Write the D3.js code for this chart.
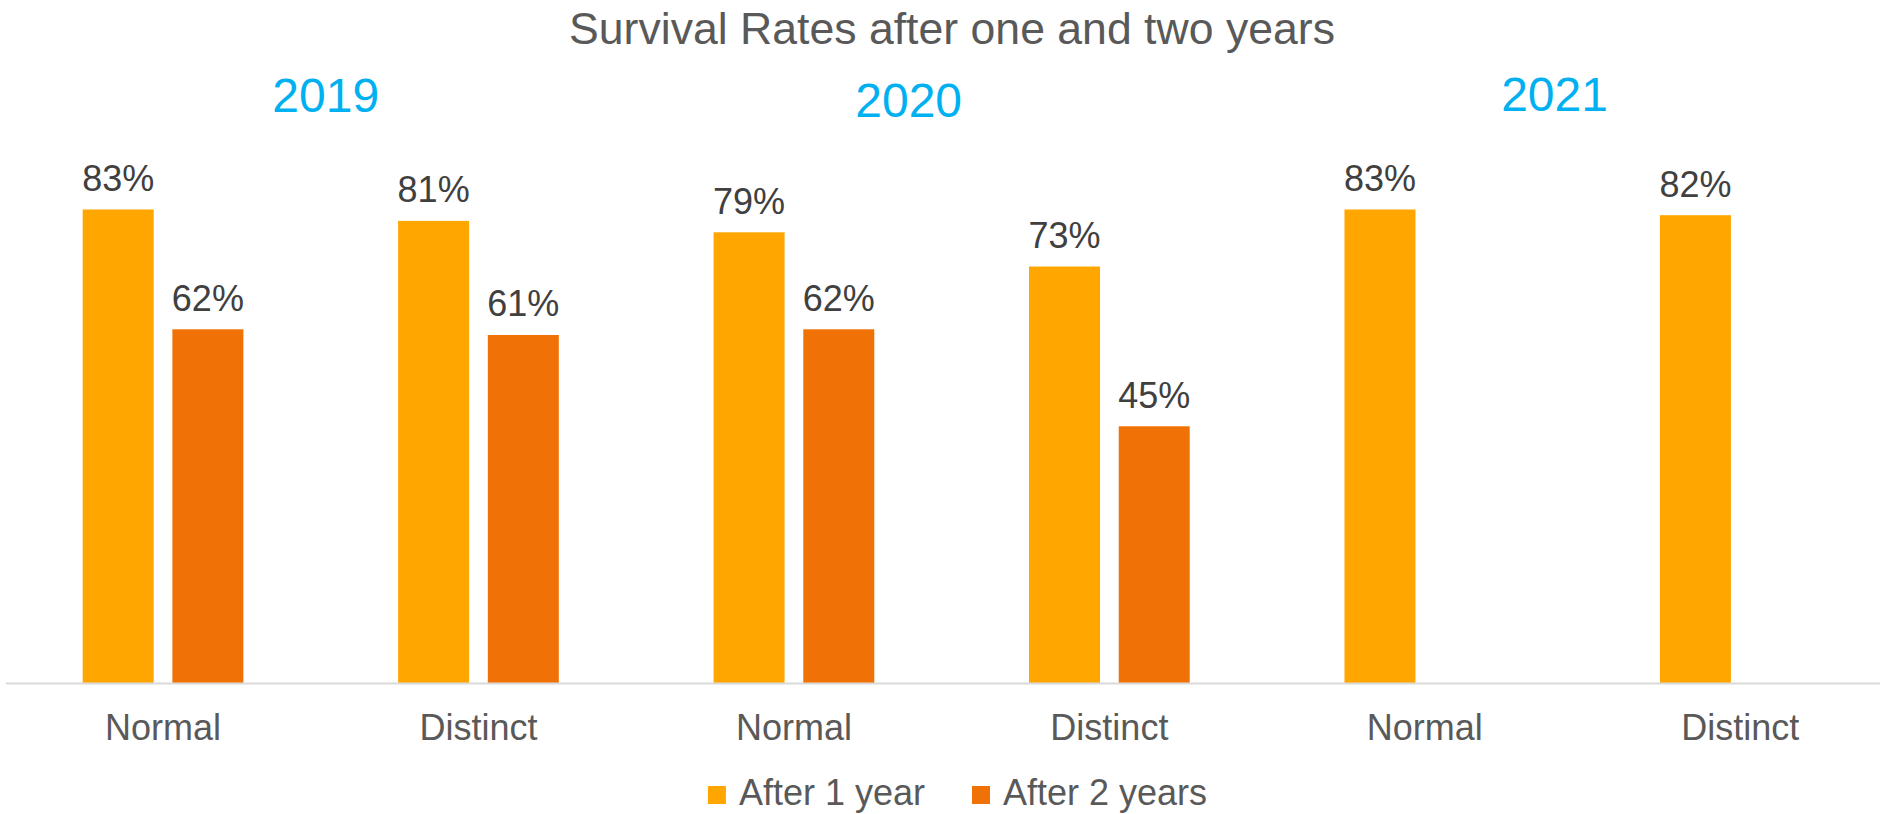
<!DOCTYPE html>
<html>
<head>
<meta charset="utf-8">
<script src="https://cdn.jsdelivr.net/npm/d3@7"></script>
<style>
  html, body { margin: 0; padding: 0; background: #ffffff; overflow: hidden; }
  svg { display: block; font-family: "Liberation Sans", Arial, sans-serif; }
</style>
</head>
<body>
<svg id="chart" width="1880" height="814"></svg>
<script>
// Chart data
const categories = ["Normal", "Distinct", "Normal", "Distinct", "Normal", "Distinct"];
const years = ["2019", "2020", "2021"];
const seriesNames = ["After 1 year", "After 2 years"];
const after1Year = [0.83, 0.81, 0.79, 0.73, 0.83, 0.82];
const after2Years = [0.62, 0.61, 0.62, 0.45, null, null];

const seriesColors = ["#FFA600", "#F07207"];

const W = 1880, H = 814;
const svg = d3.select("#chart");

// Scales
const x0 = d3.scaleBand()
  .domain(d3.range(categories.length))
  .range([5.3, 1898])
  .paddingInner(0)
  .paddingOuter(0);

const clusterWidth = 160.7;
const x1 = d3.scaleBand()
  .domain(seriesNames)
  .range([-clusterWidth / 2, clusterWidth / 2])
  .paddingInner(0.2085)
  .paddingOuter(0);

const y = d3.scaleLinear().domain([0, 1]).range([683, 112.5]);

const rows = categories.map((c, i) => ({
  i, cat: c,
  values: [after1Year[i], after2Years[i]]
}));

// Bars
const groups = svg.append("g").selectAll("g")
  .data(rows)
  .join("g")
  .attr("transform", d => `translate(${x0(d.i) + x0.bandwidth() / 2},0)`);

const cells = groups.selectAll("g.cell")
  .data(d => d.values.map((v, k) => ({ v, k })).filter(e => e.v != null))
  .join("g").attr("class", "cell");

cells.append("rect")
  .attr("x", d => x1(seriesNames[d.k]))
  .attr("width", x1.bandwidth())
  .attr("y", d => y(d.v))
  .attr("height", d => y(0) - y(d.v))
  .attr("fill", d => seriesColors[d.k]);

// Value labels
const fmt = d3.format(".0%");
cells.append("text")
  .attr("x", d => x1(seriesNames[d.k]) + x1.bandwidth() / 2)
  .attr("y", d => y(d.v) - 18.5)
  .attr("text-anchor", "middle")
  .attr("font-size", 36)
  .attr("fill", "#404040")
  .text(d => fmt(d.v));

// Category axis
const xAxis = d3.axisBottom(d3.scaleBand().domain(d3.range(categories.length)).range(x0.range()))
  .tickSize(0)
  .tickPadding(0)
  .tickFormat(i => categories[i]);

const ax = svg.append("g")
  .attr("transform", `translate(0,${y(0)})`)
  .call(xAxis);
ax.select(".domain").attr("stroke", "#D9D9D9").attr("stroke-width", 2);
ax.selectAll(".tick text")
  .attr("dy", null)
  .attr("y", 57)
  .attr("font-size", 36)
  .attr("font-family", "Liberation Sans, Arial, sans-serif")
  .attr("fill", "#595959");

// Title
svg.append("text")
  .attr("x", 952)
  .attr("y", 44)
  .attr("text-anchor", "middle")
  .attr("font-size", 44.6)
  .attr("fill", "#595959")
  .text("Survival Rates after one and two years");

// Year headings, placed above each pair of categories
const yearShift = [5, -43, -28];
const yearBaseline = [111.5, 116.5, 111];
years.forEach((yr, j) => {
  const a = x0(2 * j) + x0.bandwidth() / 2;
  const b = x0(2 * j + 1) + x0.bandwidth() / 2;
  svg.append("text")
    .attr("x", (a + b) / 2 + yearShift[j])
    .attr("y", yearBaseline[j])
    .attr("text-anchor", "middle")
    .attr("font-size", 48)
    .attr("fill", "#00B0F0")
    .text(yr);
});

// Legend
const legend = svg.append("g");
const items = legend.selectAll("g")
  .data(seriesNames)
  .join("g");
items.append("rect")
  .attr("width", 18).attr("height", 18)
  .attr("y", -19)
  .attr("fill", (d, k) => seriesColors[k]);
items.append("text")
  .attr("x", 31)
  .attr("font-size", 36)
  .attr("fill", "#595959")
  .text(d => d);

let cursor = 0;
items.each(function () {
  const g = d3.select(this);
  g.attr("transform", `translate(${cursor},0)`);
  const w = 31 + g.select("text").node().getComputedTextLength();
  cursor += w + 47;
});
const legendWidth = cursor - 47;
legend.attr("transform", `translate(${957.5 - legendWidth / 2},805)`);
</script>
</body>
</html>
